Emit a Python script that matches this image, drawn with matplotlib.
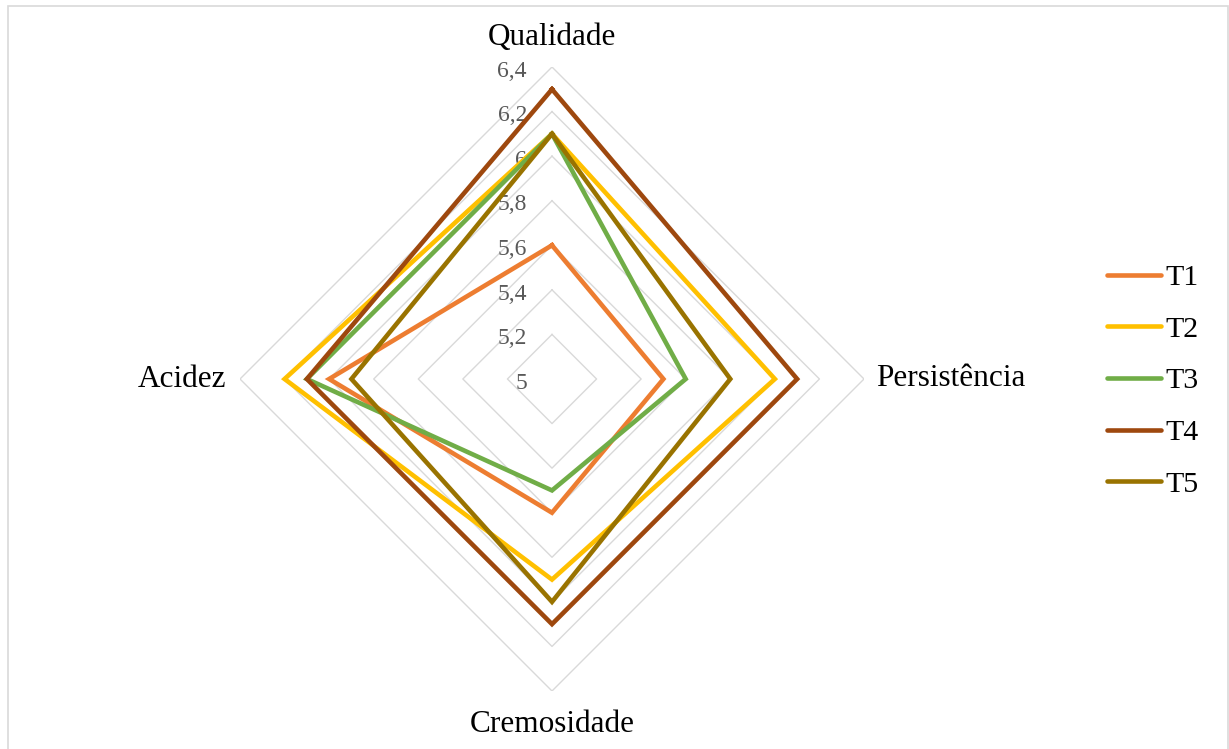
import numpy as np
import matplotlib
matplotlib.use("Agg")
import matplotlib.pyplot as plt
from matplotlib.patches import Rectangle

plt.rcParams['font.family'] = ['Liberation Serif', 'DejaVu Serif']

categories = ["Qualidade", "Persistência", "Cremosidade", "Acidez"]
series_names = ["T1", "T2", "T3", "T4", "T5"]
t1 = [5.6, 5.5, 5.6, 6.0]
t2 = [6.1, 6.0, 5.9, 6.2]
t3 = [6.1, 5.6, 5.5, 6.1]
t4 = [6.3, 6.1, 6.1, 6.1]
t5 = [6.1, 5.8, 6.0, 5.9]
colors = ["#ED7D31", "#FFC000", "#70AD47", "#9E480E", "#997300"]
ring_levels = [5.0, 5.2, 5.4, 5.6, 5.8, 6.0, 6.2, 6.4]
ring_labels = ["5", "5,2", "5,4", "5,6", "5,8", "6", "6,2", "6,4"]

W, H = 1229, 749
fig = plt.figure(figsize=(W / 100, H / 100), dpi=100)

# polar axes placed so the centre sits at (552, 379) px, radius 312 px
cx, cy, rad = 552, 379, 312
ax = fig.add_axes([(cx - rad) / W, (H - cy - rad) / H, 2 * rad / W, 2 * rad / H],
                  projection="polar")
ax.set_theta_offset(np.pi / 2)
ax.set_theta_direction(-1)
ax.set_ylim(ring_levels[0], ring_levels[-1])
ax.grid(False)
ax.spines["polar"].set_visible(False)
ax.set_xticks([])
ax.set_yticks([])
ax.patch.set_alpha(0)

angles = np.linspace(0, 2 * np.pi, len(categories), endpoint=False)
closed = np.append(angles, angles[0])

# diamond-shaped gridlines
for lvl in ring_levels[1:]:
    ax.plot(closed, [lvl] * len(closed), color="#d9d9d9", lw=1.0, zorder=1)

# radial value labels left of the vertical axis
for lvl, lab in zip(ring_levels, ring_labels):
    ax.annotate(lab, xy=(0, lvl), xytext=(-18, -3), textcoords="offset points",
                ha="right", va="center", fontsize=17, color="#595959", zorder=2)

# category labels
ax.annotate(categories[0], xy=(angles[0], ring_levels[-1]), xytext=(0, 16),
            textcoords="offset points", ha="center", va="baseline", fontsize=22.5)
ax.annotate(categories[1], xy=(angles[1], ring_levels[-1]), xytext=(9, 0),
            textcoords="offset points", ha="left", va="center", fontsize=22.5)
ax.annotate(categories[2], xy=(angles[2], ring_levels[-1]), xytext=(0, -29.5),
            textcoords="offset points", ha="center", va="baseline", fontsize=22.5)
ax.annotate(categories[3], xy=(angles[3], ring_levels[-1]), xytext=(-10, 0),
            textcoords="offset points", ha="right", va="center", fontsize=22.5)

for name, vals, col in zip(series_names, [t1, t2, t3, t4, t5], colors):
    v = np.append(vals, vals[0])
    ax.plot(closed, v, color=col, lw=3.3, solid_joinstyle="miter",
            label=name, zorder=3)

leg_handles = [plt.Line2D([], [], color=c, lw=3.3, solid_capstyle="round")
               for c in colors]
fig.legend(leg_handles, series_names, loc="center left",
           bbox_to_anchor=(1107 / W, 1 - 381 / H), frameon=False,
           fontsize=21.5, handlelength=1.8, handletextpad=0.15,
           labelspacing=0.83, borderpad=0, borderaxespad=0)

# chart border
fig.patches.append(Rectangle((7.5 / W, -0.05), 1220 / W, 1.05 - 5.5 / H,
                             transform=fig.transFigure, fill=False,
                             edgecolor="#d9d9d9", lw=1.2))

fig.savefig("out.png", dpi=100, facecolor="white")
